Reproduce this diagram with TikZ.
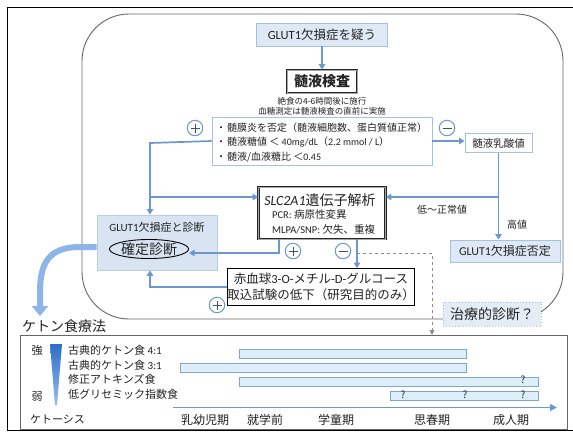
\documentclass[tikz,border=0pt]{standalone}
\usepackage{fontspec}
\setmainfont{Noto Sans CJK JP}
\newfontfamily\latf{Carlito}
\newcommand\lat[1]{{\latf #1}}
\newcommand\fsz[1]{\fontsize{#1}{#1}\selectfont}
\usetikzlibrary{arrows.meta,shapes.geometric,calc}
\definecolor{arr}{RGB}{108,152,208}
\definecolor{bigarr}{RGB}{140,182,232}
\definecolor{bfill}{RGB}{222,233,245}
\definecolor{bline}{RGB}{165,192,224}
\definecolor{dfill}{RGB}{216,228,242}
\definecolor{tfill}{RGB}{228,236,246}
\definecolor{barfill}{RGB}{222,239,250}
\definecolor{barline}{RGB}{125,168,205}
\definecolor{txtc}{RGB}{35,35,35}
\begin{document}
\begin{tikzpicture}[x=1pt,y=-1pt,
  every node/.style={text=txtc},
  txt/.style={inner sep=0pt},
  ar/.style={draw=arr, line width=1.7pt, -{Triangle[length=5.5pt,width=6.5pt]}},
  ln/.style={draw=arr, line width=1.7pt},
  lbox/.style={draw=bline, fill=bfill, line width=0.9pt, inner sep=0pt},
  cbox/.style={draw=bline, fill=white, line width=0.9pt, inner sep=0pt},
  dgbox/.style={draw=bline!80, fill=dfill, line width=0.8pt, inner sep=0pt},
  dbox/.style={draw=black!85, double=black!35, double distance=0.9pt, line width=0.8pt, fill=white, inner sep=0pt},
  pm/.style={circle, draw=arr, line width=1pt, fill=white, minimum size=15.5pt, inner sep=0pt},
  pmplus/.style={pm, path picture={
    \draw[arr!55!black, line width=0.9pt] ([xshift=-4.5pt]path picture bounding box.center) -- ([xshift=4.5pt]path picture bounding box.center);
    \draw[arr!55!black, line width=0.9pt] ([yshift=-4.5pt]path picture bounding box.center) -- ([yshift=4.5pt]path picture bounding box.center);}},
  pmminus/.style={pm, path picture={
    \draw[arr!55!black, line width=0.9pt] ([xshift=-4.5pt]path picture bounding box.center) -- ([xshift=4.5pt]path picture bounding box.center);}},
  bar/.style={draw=barline, fill=barfill, line width=0.7pt}
]
\useasboundingbox (0,0) rectangle (573,432);
\fill[white] (0,0) rectangle (573,432);

% outer frame and rounded panel
\draw[black, line width=1.6pt] (573,7.5) -- (7.5,7.5) -- (7.5,430.5) -- (573,430.5);
\draw[black!60, line width=0.9pt, rounded corners=47pt] (82,14) rectangle (563,319);

% top chain
\node[lbox, minimum width=131pt, minimum height=23pt] (susp) at (322,34.5) {\fsz{12.5}\lat{GLUT1}欠損症を疑う};
\node[dbox, minimum width=70pt, minimum height=23pt] (csf) at (322,81.5) {\fsz{14}\bfseries 髄液検査};
\node[txt] (n1) at (322,101) {\fsz{8.5}絶食の4-6時間後に施行};
\node[txt] (n2) at (322,111) {\fsz{8.5}血糖測定は髄液検査の直前に実施};
\node[cbox, minimum width=220pt, minimum height=48pt] (crit) at (322,141) {};
\node[txt, anchor=west] (c1) at (216,128) {\fsz{10}・\hspace{1pt}髄膜炎を否定（髄液細胞数、蛋白質値正常）};
\node[txt, anchor=west] (c2) at (216,142.5) {\fsz{10}・\hspace{1pt}髄液糖値 ＜ \lat{40mg/dL}（\lat{2.2 mmol / L}）};
\node[txt, anchor=west] (c3) at (216,157) {\fsz{10}・\hspace{1pt}髄液/血液糖比 ＜\lat{0.45}};
\node[pmplus] (p1) at (195,128) {};
\node[pmminus] (m1) at (447,128) {};
\node[cbox, minimum width=67pt, minimum height=19pt] (lact) at (498.5,143) {\fsz{10.5}髄液乳酸値};

% gene analysis
\node[dbox, minimum width=127pt, minimum height=52pt] (slc) at (322,213) {};
\node[txt] (s1) at (320,200) {\fsz{14}{\latf\itshape SLC2A1}遺伝子解析};
\node[txt, anchor=west] (s2) at (272,215) {\fsz{10.5}\lat{PCR:} 病原性変異};
\node[txt, anchor=west] (s3) at (272,229) {\fsz{10.5}\lat{MLPA/SNP:} 欠失、重複};

% diagnosis box
\node[dgbox, minimum width=120pt, minimum height=55pt] (diag) at (157,242.5) {};
\node[txt] (d1) at (157,227) {\fsz{11}\lat{GLUT1}欠損症と診断};
\node[ellipse, draw=black, line width=0.9pt, minimum width=72pt, minimum height=19pt, inner sep=0pt] (conf) at (149,249) {\fsz{14}確定診断};

% negative
\node[lbox, minimum width=110pt, minimum height=22pt] (neg) at (505,251) {\fsz{12}\lat{GLUT1}欠損症否定};
\node[txt] (low) at (442,210) {\fsz{10}低〜正常値};
\node[txt] (high) at (517,225) {\fsz{10}高値};

% red blood cell test
\node[draw=black, line width=0.8pt, fill=white, minimum width=182pt, minimum height=37pt, inner sep=0pt, align=center, font=\fontsize{12.5}{16}\selectfont] (rbc) at (321,287) {赤血球\lat{3-O-}メチル\lat{-D-}グルコース\\取込試験の低下（研究目的のみ）};

% therapeutic diagnosis
\node[draw=bline, dotted, fill=tfill, line width=0.9pt, minimum width=98pt, minimum height=24pt, inner sep=0pt] (ther) at (492,314) {\fsz{14}治療的診断？};

% connectors
\coordinate (jL) at (150,143);
\coordinate (jL2) at (150,197);
\coordinate (jR) at (498.5,197);
\coordinate (jB) at (279,253);
\coordinate (jA) at (357,253);
\coordinate (jD) at (150,287);
\coordinate (dC) at (432,253);

\draw[ar] (susp) -- (csf);
\draw[ar] (crit.east) -- (lact.west |- crit.east);
\draw[ar] (crit.west) -- (jL) -- (jL |- diag.north);
\draw[ar] (jL2) -- (slc.west |- jL2);
\draw[ar] (lact.south) -- (lact.south |- neg.north);
\draw[ar] (jR) -- (slc.east |- jR);
\draw[ar] (slc.south -| jB) -- (jB) -- (jB -| conf.east);
\draw[ar] (slc.south -| jA) -- (jA |- rbc.north);
\draw[ar] (rbc.west) -- (jD) -- (jD |- diag.south);
\draw[draw=black!45, line width=0.9pt, dashed, -{Triangle[length=5pt,width=5pt]}] (jA) -- (dC) -- (dC |- 0,335);

\node[pmplus] (p2) at (293,251) {};
\node[pmminus] (m2) at (343,251) {};
\node[pmplus] (p3) at (217,305) {};

% big curved arrow to ketogenic diet
\draw[draw=bigarr, line width=6pt, -{Triangle[length=10pt,width=16pt]}] ($(diag.west)+(0,4.5)$) -- (80,247) .. controls (48,247) and (40,264) .. (40,292) -- (40,316);

% ketogenic diet panel
\node[txt, anchor=west] (kt) at (22,326) {\fsz{14}ケトン食療法};
\node[draw=black!60, line width=0.8pt, minimum width=547pt, minimum height=94pt, inner sep=0pt] (tl) at (293.5,382) {};

\node[txt] (strong) at (37,350) {\fsz{11}強};
\node[txt] (weak) at (37,397) {\fsz{11}弱};
\shade[top color={rgb,255:red,45;green,110;blue,200}, bottom color={rgb,255:red,150;green,190;blue,235}] (50,344) -- (62,344) -- (57,405) -- (55,405) -- cycle;

\node[txt, anchor=west] (r1) at (68,350) {\fsz{11}古典的ケトン食 \lat{4:1}};
\node[txt, anchor=west] (r2) at (68,365) {\fsz{11}古典的ケトン食 \lat{3:1}};
\node[txt, anchor=west] (r3) at (68,379.5) {\fsz{11}修正アトキンズ食};
\node[txt, anchor=west] (r4) at (68,394.5) {\fsz{11}低グリセミック指数食};

\draw[bar] (239,349) rectangle (466,358);
\draw[bar] (180,363) rectangle (466,372);
\draw[bar] (239,377) rectangle (538,386);
\draw[bar] (390,391) rectangle (538,400);
\node[txt] (q1) at (523,380) {\fsz{10}?};
\node[txt] (q2) at (403,395) {\fsz{10}?};
\node[txt] (q3) at (465,395) {\fsz{10}?};
\node[txt] (q4) at (523,395) {\fsz{10}?};

\coordinate (ax0) at (173,407.5);
\coordinate (ax1) at (557,407.5);
\draw[draw=arr, line width=1.7pt, -{Triangle[length=7pt,width=7pt]}] (ax0) -- (ax1);

\node[txt, anchor=west] (ks) at (30,419) {\fsz{11}ケトーシス};
\node[txt] (a1) at (205,420) {\fsz{12}乳幼児期};
\node[txt] (a2) at (265,420) {\fsz{12}就学前};
\node[txt] (a3) at (336,420) {\fsz{12}学童期};
\node[txt] (a4) at (432,420) {\fsz{12}思春期};
\node[txt] (a5) at (511,420) {\fsz{12}成人期};
\end{tikzpicture}
\end{document}
